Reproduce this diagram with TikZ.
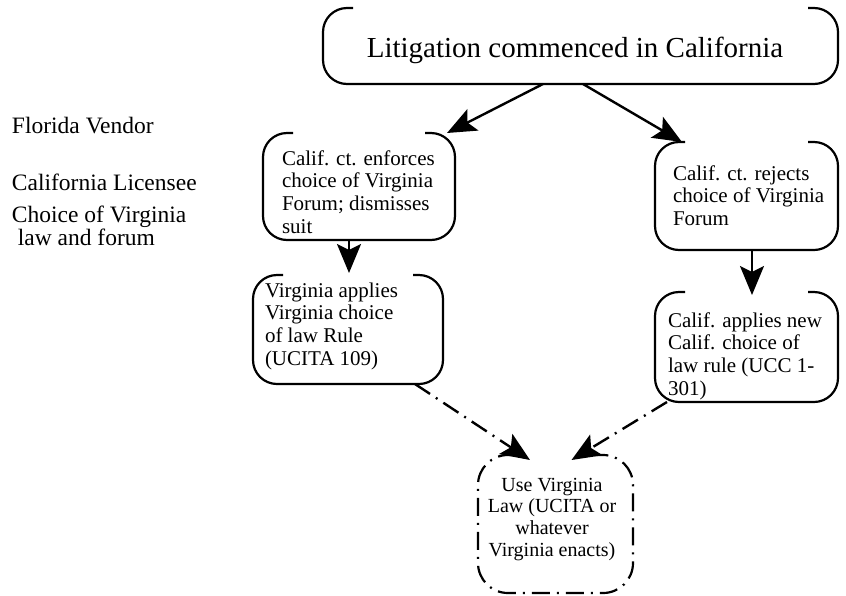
\documentclass[tikz,border=0pt]{standalone}
\usepackage{fontspec}
\setmainfont{Liberation Serif}
\usetikzlibrary{arrows.meta}
\begin{document}
\begin{tikzpicture}[x=1pt,y=-1pt,
  frame/.style={draw=none,fill=none,inner sep=0pt,outer sep=0pt},
  boxline/.style={line width=2.2pt,rounded corners=24pt},
  ddash/.style={dash pattern=on 18pt off 7pt on 2pt off 7pt},
  arr/.style={line width=2.4pt,-{Stealth[length=29pt,width=24pt,inset=6pt]}},
  btext/.style={inner sep=0pt,outer sep=0pt,align=left,font=\fontsize{21}{22.7}\selectfont},
  ctext/.style={inner sep=0pt,outer sep=0pt,align=center,font=\fontsize{20}{21.6}\selectfont},
  lbl/.style={inner sep=0pt,outer sep=0pt,align=left,font=\fontsize{23.5}{23}\selectfont}]
\useasboundingbox (0,0) rectangle (846,595);
% box frames
\node[frame,minimum width=515pt,minimum height=76pt] (top) at (580.5,46) {};
\node[frame,minimum width=192pt,minimum height=107pt] (A) at (359,186.5) {};
\node[frame,minimum width=183pt,minimum height=108pt] (B) at (746.5,196) {};
\node[frame,minimum width=190pt,minimum height=109pt] (C) at (348,329.5) {};
\node[frame,minimum width=183pt,minimum height=110pt] (D) at (746.5,347) {};
\node[frame,minimum width=155pt,minimum height=138pt] (E) at (555.5,524) {};
% outlines, open along the top
\foreach \n in {top,A,B,C,D}{
  \draw[boxline] ([xshift=30pt]\n.north west) -- (\n.north west) -- (\n.south west)
     -- (\n.south east) -- (\n.north east) -- ([xshift=-30pt]\n.north east);
}
\draw[boxline,ddash,rounded corners=30pt] ([xshift=38pt]E.north west) -- (E.north west) -- (E.south west)
     -- (E.south east) -- (E.north east) -- ([xshift=-38pt]E.north east);
% texts
\node[inner sep=0pt,font=\fontsize{29}{30}\selectfont,anchor=base] (title) at (575,57) {Litigation commenced in California};
\node[btext,anchor=north west] (At) at (282,150.5) {Calif. ct. enforces\\choice of Virginia\\Forum; dismisses\\suit};
\node[btext,anchor=north west] (Bt) at (673,165.5) {Calif. ct. rejects\\choice of Virginia\\Forum};
\node[btext,anchor=north west] (Ct) at (265,282.5) {Virginia applies\\Virginia choice\\of law Rule\\(UCITA 109)};
\node[btext,anchor=north west] (Dt) at (668,312.5) {Calif. applies new\\Calif. choice of\\law rule (UCC 1-\\301)};
\node[ctext,anchor=north] (Et) at (552,478) {Use Virginia\\Law (UCITA or\\whatever\\Virginia enacts)};
\node[lbl,anchor=base west] (fv) at (12,133) {Florida Vendor};
\node[lbl,anchor=base west] (cl) at (12,190) {California Licensee};
\node[lbl,anchor=north west] (cv) at (12,206) {Choice of Virginia\\\hspace*{0.25em}law and forum};
% connectors
\draw[arr] ([xshift=-37.5pt]top.south) -- ([xshift=-8pt]A.north east);
\draw[arr] ([xshift=2.5pt]top.south) -- ([xshift=27pt]B.north west);
\draw[arr] ([xshift=-10pt]A.south) -- ([xshift=-10pt,yshift=2pt]A.south |- C.north);
\draw[arr] ([xshift=5.5pt]B.south) -- ([xshift=5.5pt,yshift=-3pt]B.south |- D.north);
\draw[arr,ddash] ([xshift=67pt]C.south) -- ([xshift=-25.5pt,yshift=-5pt]E.north);
\draw[arr,ddash] ([xshift=-79.5pt]D.south) -- ([xshift=16pt,yshift=-5pt]E.north);
\end{tikzpicture}
\end{document}
